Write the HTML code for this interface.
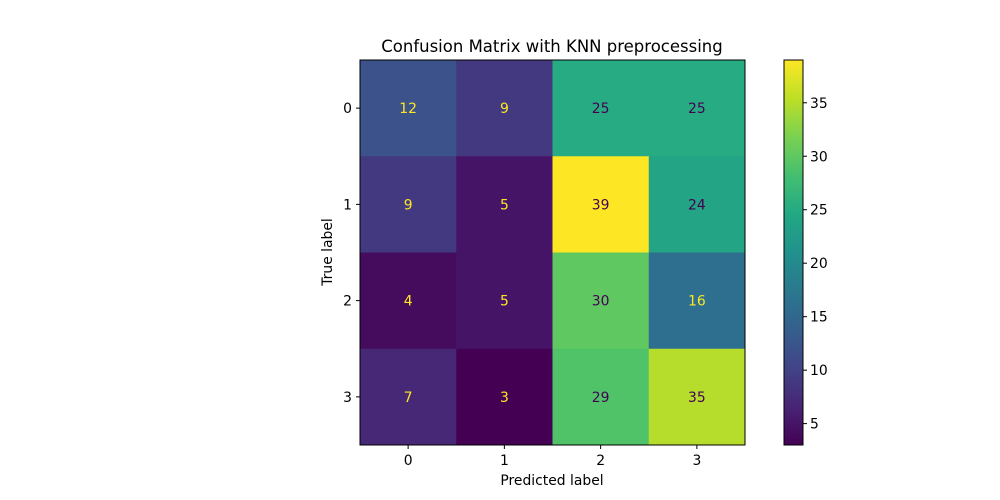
<!DOCTYPE html>
<html><head><meta charset="utf-8"><style>
body{margin:0;background:#fff;}
svg{display:block;font-family:"DejaVu Sans","Liberation Sans",sans-serif;}
</style></head><body>
<svg id="chart" width="1000" height="500" viewBox="0 0 1000 500">
<defs><linearGradient id="vir" x1="0" y1="1" x2="0" y2="0">
<stop offset="0" stop-color="#440154"/><stop offset="0.1" stop-color="#482475"/><stop offset="0.2" stop-color="#414487"/><stop offset="0.3" stop-color="#355f8d"/><stop offset="0.4" stop-color="#2a788e"/><stop offset="0.5" stop-color="#21918c"/><stop offset="0.6" stop-color="#22a884"/><stop offset="0.7" stop-color="#44bf70"/><stop offset="0.8" stop-color="#7ad151"/><stop offset="0.9" stop-color="#bddf26"/><stop offset="1" stop-color="#fde725"/>
</linearGradient></defs>
<text x="552" y="52" text-anchor="middle" font-size="16.5" fill="#000">Confusion Matrix with KNN preprocessing</text>
<g id="cells"></g>
<rect x="360" y="60" width="385" height="385" fill="none" stroke="#000" stroke-width="1"/>
<g id="axes"></g>
<text x="552" y="485" text-anchor="middle" font-size="13.9">Predicted label</text>
<text x="332" y="252" text-anchor="middle" font-size="13.9" transform="rotate(-90 332 252)">True label</text>
<rect x="784" y="60" width="19" height="385" fill="url(#vir)" stroke="#000" stroke-width="1"/>
<g id="cbticks"></g>
</svg>
<script>
const labels = ["0","1","2","3"];
const row0 = [12, 9, 25, 25];
const row1 = [9, 5, 39, 24];
const row2 = [4, 5, 30, 16];
const row3 = [7, 3, 29, 35];
const cbTicks = [5, 10, 15, 20, 25, 30, 35];
const matrix = [row0, row1, row2, row3];
const vmin = Math.min(...matrix.flat()), vmax = Math.max(...matrix.flat());
const stops = ["#440154","#482475","#414487","#355f8d","#2a788e","#21918c","#22a884","#44bf70","#7ad151","#bddf26","#fde725"];
function hex(h){return [1,3,5].map(i=>parseInt(h.substr(i,2),16));}
function viridis(t){t=Math.max(0,Math.min(1,t));const p=t*10,i=Math.min(9,Math.floor(p)),f=p-i;const a=hex(stops[i]),b=hex(stops[i+1]);return "rgb("+a.map((v,k)=>Math.round(v+(b[k]-v)*f)).join(",")+")";}
const X0=360,Y0=60,W=385,H=385,n=labels.length,cw=W/n,ch=H/n;
const NS="http://www.w3.org/2000/svg";
function mk(tag,attrs,parent){const e=document.createElementNS(NS,tag);for(const k in attrs)e.setAttribute(k,attrs[k]);parent.appendChild(e);return e;}
const cells=document.getElementById('cells'),axes=document.getElementById('axes'),cb=document.getElementById('cbticks');
const thresh=(vmin+vmax)/2;
matrix.forEach((row,r)=>row.forEach((v,c)=>{
  const rc=mk('rect',{x:X0+c*cw,y:Y0+r*ch,width:cw+0.5,height:ch+0.5,fill:viridis((v-vmin)/(vmax-vmin))},cells);
  
  
  const t=mk('text',{x:X0+(c+0.5)*cw,y:Y0+(r+0.5)*ch+5,'text-anchor':'middle','font-size':'13.9',fill:v<thresh?'#fde725':'#440154'},cells);
  t.textContent=v;
  
  
}));
labels.forEach((l,i)=>{
  const cx=X0+(i+0.5)*cw;
  mk('line',{x1:cx,y1:Y0+H,x2:cx,y2:Y0+H+4,stroke:'#000'},axes);
  const t=mk('text',{x:cx,y:Y0+H+20,'text-anchor':'middle','font-size':'13.9'},axes);
  t.textContent=l;
  
  
  const cy=Y0+(i+0.5)*ch;
  mk('line',{x1:X0-4,y1:cy,x2:X0,y2:cy,stroke:'#000'},axes);
  const u=mk('text',{x:X0-8,y:cy+5,'text-anchor':'end','font-size':'13.9'},axes);
  u.textContent=l;
  
  
});
cbTicks.forEach(v=>{
  const y=Y0+H-(v-vmin)/(vmax-vmin)*H;
  mk('line',{x1:803,y1:y,x2:807,y2:y,stroke:'#000'},cb);
  const t=mk('text',{x:810,y:y+5,'font-size':'13.9'},cb);
  t.textContent=v;
  
  
});
</script>
</body></html>
